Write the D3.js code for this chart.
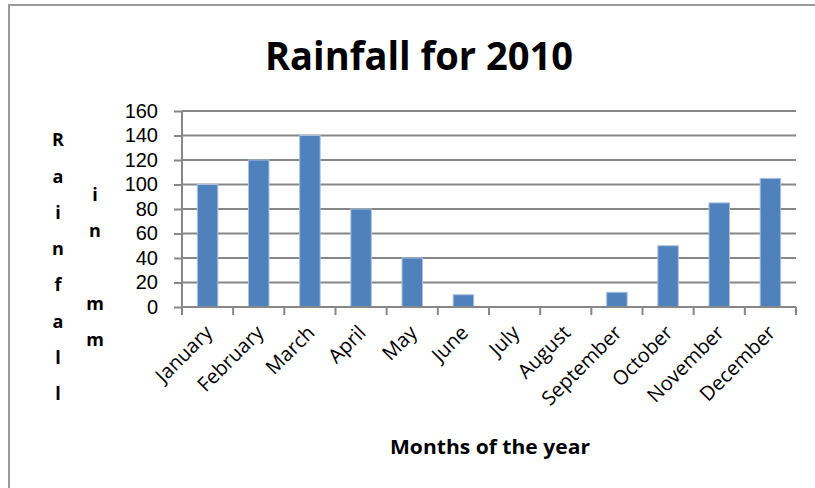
<!DOCTYPE html>
<html>
<head>
<meta charset="utf-8">
<script src="https://cdn.jsdelivr.net/npm/d3@7"></script>
<style>
  html, body { margin: 0; padding: 0; background: #fff; }
  svg { display: block; }
</style>
</head>
<body>
<svg id="chart" width="815" height="488"></svg>
<script>
const months = ["January","February","March","April","May","June","July","August","September","October","November","December"];
const rainfall = [100, 120, 140, 80, 40, 10, 0, 0, 12, 50, 85, 105];
const yTicks = [0, 20, 40, 60, 80, 100, 120, 140, 160];
const titleText = "Rainfall for 2010";
const xTitleText = "Months of the year";
const yTitleColumns = ["Rainfall", "in mm"];

const svg = d3.select("#chart");
const W = 815, H = 488;
const margin = { left: 182, right: 19, top: 111, bottom: 181 };
const plotW = W - margin.left - margin.right;
const plotH = H - margin.top - margin.bottom;
const gray = "#878787";
const font = "'Open Sans', sans-serif";

// outer chart border
svg.append("rect")
  .attr("x", 9).attr("y", 5)
  .attr("width", W + 20).attr("height", H + 20)
  .attr("fill", "#fff").attr("stroke", "#9a9a9a").attr("stroke-width", 2);

const x = d3.scaleBand().domain(months).range([0, plotW]).paddingInner(0.6).paddingOuter(0.3);
const y = d3.scaleLinear().domain([0, 160]).range([plotH, 0]);

const g = svg.append("g").attr("transform", `translate(${margin.left},${margin.top})`);

// gridlines
g.append("g").selectAll("line").data(yTicks.filter(d => d > 0)).join("line")
  .attr("x1", 0).attr("x2", plotW)
  .attr("y1", d => y(d)).attr("y2", d => y(d))
  .attr("stroke", gray).attr("stroke-width", 2);

// bars
g.append("g").selectAll("rect").data(rainfall.map((v, i) => ({ m: months[i], v })))
  .join("rect")
  .attr("x", d => x(d.m))
  .attr("y", d => y(d.v))
  .attr("width", x.bandwidth())
  .attr("height", d => plotH - y(d.v))
  .attr("fill", "#4F81BD")
  .attr("stroke", "#A9C0DE").attr("stroke-width", d => d.v > 0 ? 1 : 0);

// y axis
const yAxis = g.append("g")
  .call(d3.axisLeft(y).tickValues(yTicks).tickSize(8).tickPadding(16).tickFormat(d3.format("d")));
yAxis.select(".domain").attr("stroke", gray).attr("stroke-width", 2).attr("d", `M0,${plotH}V0`);
yAxis.selectAll(".tick line").attr("stroke", gray).attr("stroke-width", 2);
yAxis.selectAll(".tick text")
  .attr("font-family", "'Liberation Sans', Arial, sans-serif").attr("font-size", 20).attr("fill", "#000");

// x axis (tick marks at category boundaries)
const boundaries = d3.range(months.length + 1).map(i => i * plotW / months.length);
const xg = g.append("g").attr("transform", `translate(0,${plotH})`);
xg.append("line").attr("x1", 0).attr("x2", plotW).attr("y1", 0).attr("y2", 0)
  .attr("stroke", gray).attr("stroke-width", 2);
xg.selectAll("line.tk").data(boundaries).join("line").attr("class", "tk")
  .attr("x1", d => d).attr("x2", d => d).attr("y1", 0).attr("y2", 8)
  .attr("stroke", gray).attr("stroke-width", 2);
xg.selectAll("text.lbl").data(months).join("text").attr("class", "lbl")
  .attr("transform", d => `translate(${x(d) + x.bandwidth() / 2 + 6},${27}) rotate(-45)`)
  .attr("text-anchor", "end")
  .attr("font-family", font).attr("font-size", 20).attr("fill", "#000")
  .text(d => d);

// title
svg.append("text")
  .attr("x", 419).attr("y", 70)
  .attr("text-anchor", "middle")
  .attr("font-family", font).attr("font-weight", "bold")
  .attr("font-size", 39).attr("fill", "#000")
  .attr("textLength", 308).attr("lengthAdjust", "spacingAndGlyphs")
  .text(titleText);

// x axis title
svg.append("text")
  .attr("x", 490).attr("y", 454)
  .attr("text-anchor", "middle")
  .attr("font-family", font).attr("font-weight", "bold")
  .attr("font-size", 19).attr("fill", "#000")
  .attr("textLength", 200).attr("lengthAdjust", "spacingAndGlyphs")
  .text(xTitleText);

// y axis title: stacked characters in columns
const colX = [58, 95];
const lineH = 36.3;
const centerY = 267;
yTitleColumns.forEach((col, ci) => {
  const chars = col.split("");
  const n = chars.length;
  chars.forEach((ch, k) => {
    svg.append("text")
      .attr("x", colX[ci])
      .attr("y", centerY + (k - (n - 1) / 2) * lineH)
      .attr("dy", "0.35em")
      .attr("text-anchor", "middle")
      .attr("font-family", font).attr("font-weight", "bold")
      .attr("font-size", 18).attr("fill", "#000")
      .text(ch);
  });
});
</script>
</body>
</html>
